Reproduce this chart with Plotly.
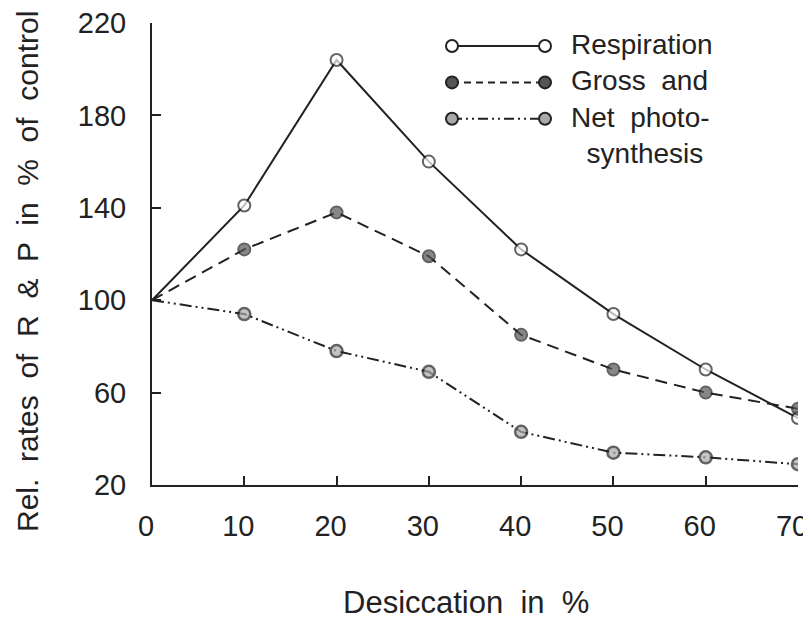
import plotly.graph_objects as go

desiccation = [0, 10, 20, 30, 40, 50, 60, 70]
respiration = [100, 141, 204, 160, 122, 94, 70, 49]
gross_ps = [100, 122, 138, 119, 85, 70, 60, 53]
net_ps = [100, 94, 78, 69, 43, 34, 32, 29]

x_ticks = [0, 10, 20, 30, 40, 50, 60, 70]
y_ticks = [20, 60, 100, 140, 180, 220]

FONT = "Liberation Sans"
INK = "#222"
msize = [0, 12, 12, 12, 12, 12, 12, 12]

fig = go.Figure()
fig.add_trace(go.Scatter(
    x=desiccation, y=respiration, mode="lines+markers", name="Respiration",
    line=dict(color=INK, width=2),
    marker=dict(symbol="circle", size=msize, color="white", line=dict(color=INK, width=2)),
    showlegend=False))
fig.add_trace(go.Scatter(
    x=desiccation, y=gross_ps, mode="lines+markers", name="Gross and",
    line=dict(color=INK, width=2, dash="12px,7px"),
    marker=dict(symbol="circle", size=msize, color="#555", line=dict(color=INK, width=2)),
    showlegend=False))
fig.add_trace(go.Scatter(
    x=desiccation, y=net_ps, mode="lines+markers", name="Net photosynthesis",
    line=dict(color=INK, width=2, dash="12px,4px,2px,4px,2px,4px"),
    marker=dict(symbol="circle", size=msize, color="#aaa", line=dict(color=INK, width=2.5)),
    showlegend=False))

# The page body has an 8px margin: size the figure so the plot lands where the reference has it.
OFF = 8
W, H = 803, 616
L, R, T, B = 144, 13, 15, 139
pw, ph = W - L - R, H - T - B

def px(xp):  # page pixel x -> paper
    return (xp - OFF - L) / pw

def py(yp):  # page pixel y -> paper
    return (H - B - (yp - OFF)) / ph

LFS = 28
line_h = LFS * 1.3
rows = [46, 46 + line_h, 46 + 2 * line_h]
fills = ["white", "#555", "#aaa"]
dashes = ["solid", "7px,5px", "10px,4px,2px,4px,2px,4px"]
for ry, fc, d in zip(rows, fills, dashes):
    fig.add_shape(type="line", xref="paper", yref="paper",
                  x0=px(452), x1=px(545), y0=py(ry), y1=py(ry),
                  line=dict(color=INK, width=2, dash=d))
    for cx in (452, 545):
        fig.add_shape(type="circle", xref="paper", yref="paper",
                      x0=px(cx - 6), x1=px(cx + 6), y0=py(ry - 6), y1=py(ry + 6),
                      fillcolor=fc, line=dict(color=INK, width=2))

legend_text = "Respiration<br>Gross  and<br>Net  photo-<br>\u00a0\u00a0synthesis"
fig.add_annotation(text=legend_text, xref="paper", yref="paper", x=px(570), y=py(46 - line_h / 2),
                   xanchor="left", yanchor="top", align="left", showarrow=False,
                   borderpad=0, font=dict(family=FONT, size=LFS, color=INK))

fig.add_annotation(text="Desiccation  in  %", xref="paper", yref="paper",
                   x=px(466), y=py(602), xanchor="center", yanchor="middle",
                   showarrow=False, font=dict(family=FONT, size=31, color=INK))
fig.add_annotation(text="Rel.  rates  of  R  &  P  in  %  of  control", xref="paper", yref="paper",
                   x=px(27), y=py(272), xanchor="center", yanchor="middle", textangle=-90,
                   showarrow=False, font=dict(family=FONT, size=30, color=INK))

fig.update_layout(
    width=W, height=H,
    margin=dict(l=L, r=R, t=T, b=B, autoexpand=False),
    paper_bgcolor="white", plot_bgcolor="white",
    font=dict(family=FONT, size=29, color=INK),
)
fig.update_xaxes(range=[0, 70], tickvals=x_ticks,
                 ticks="inside", ticklen=9, tickwidth=2,
                 tickcolor=INK, showline=True, linecolor=INK, linewidth=2,
                 showgrid=False, zeroline=False, ticklabelstandoff=14,
                 ticklabelshift=-6,
                 automargin=False, ticklabeloverflow="allow",
                 tickfont=dict(family=FONT, size=29, color=INK))
fig.update_yaxes(range=[20, 220], tickvals=y_ticks, ticks="inside", ticklen=9, tickwidth=2,
                 tickcolor=INK, showline=True, linecolor=INK, linewidth=2,
                 showgrid=False, zeroline=False, ticklabelstandoff=18,
                 automargin=False, ticklabeloverflow="allow",
                 tickfont=dict(family=FONT, size=29, color=INK))

fig.write_html("out.html")
